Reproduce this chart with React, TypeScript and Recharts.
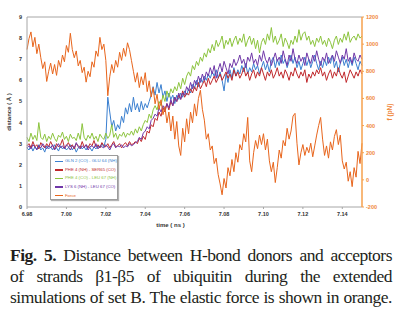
import { LineChart, Line, XAxis, YAxis, Legend, ReferenceLine } from "recharts";

// sampling grid: one reading every 0.001 ns from 6.980 to 7.150
const TIME_START = 6.98;
const TIME_STEP = 0.001;

// distance (Å)
const gln2Glu64 = [
  2.8, 2.7, 2.9, 2.65, 2.85, 2.75, 2.95, 2.7, 2.8, 2.6,
  2.9, 2.75, 2.85, 2.7, 2.95, 2.8, 2.65, 2.9, 2.75, 2.85,
  2.7, 2.8, 2.95, 2.7, 2.85, 2.6, 2.8, 2.9, 2.75, 2.85,
  2.7, 2.9, 2.8, 2.65, 2.85, 2.75, 2.9, 2.8, 3.0, 2.85,
  3.2, 5.2, 4.5, 3.8, 4.1, 3.6, 3.9, 3.7, 4.3, 4.0,
  4.7, 4.4, 4.9, 4.5, 5.2, 4.6, 4.9, 4.5, 5.0, 4.6,
  4.9, 4.7, 5.0, 5.3, 5.7, 5.3, 5.9, 5.4, 5.8, 5.2,
  5.5, 5.0, 5.4, 5.1, 5.3, 4.9, 5.3, 5.1, 5.4, 5.2,
  5.5, 5.3, 5.6, 5.4, 5.8, 5.6, 6.0, 5.7, 6.1, 5.9,
  6.2, 6.0, 6.3, 6.1, 6.4, 6.2, 6.5, 6.1, 6.4, 6.0,
  5.5, 6.3, 5.9, 6.5, 6.1, 6.6, 6.2, 6.5, 6.3, 6.7,
  6.4, 6.8, 6.3, 6.6, 6.4, 6.8, 6.5, 6.7, 6.3, 6.6,
  6.9, 6.5, 6.8, 6.4, 6.9, 7.1, 6.6, 7.0, 6.7, 7.2,
  6.8, 7.0, 6.6, 6.9, 7.2, 6.8, 7.1, 6.6, 6.9, 6.5,
  6.8, 7.1, 6.7, 7.0, 6.6, 6.9, 7.2, 6.8, 6.5, 6.9,
  6.6, 7.0, 6.7, 7.1, 6.8, 7.2, 6.6, 6.9, 6.4, 6.8,
  7.1, 6.7, 7.0, 6.6, 7.0, 6.7, 7.1, 6.8, 6.5, 6.9,
  6.7,
];

const phe4Ser65 = [
  2.9, 3.0, 2.8, 3.1, 2.85, 2.95, 2.75, 3.05, 2.9, 2.8,
  3.0, 2.85, 3.1, 2.9, 2.75, 3.0, 2.85, 2.95, 3.2, 2.8,
  2.9, 3.05, 2.85, 2.95, 2.75, 3.0, 2.9, 2.8, 3.1, 2.85,
  2.95, 2.8, 3.0, 2.9, 3.15, 2.85, 2.95, 2.8, 3.05, 2.9,
  2.85, 3.0, 2.8, 2.95, 3.1, 2.85, 2.9, 3.0, 2.8, 2.95,
  3.05, 2.9, 3.1, 2.95, 3.0, 3.1, 3.0, 3.25, 3.1, 3.35,
  3.2, 3.6, 3.5, 3.9, 3.8, 4.2, 4.1, 4.5, 4.3, 4.7,
  4.5, 4.9, 4.6, 5.0, 4.8, 5.2, 5.0, 5.3, 5.1, 5.5,
  5.2, 5.4, 5.3, 5.6, 5.4, 5.7, 5.5, 5.9, 5.6, 5.8,
  6.0, 5.7, 6.1, 5.8, 6.0, 6.2, 5.9, 6.1, 6.3, 6.0,
  6.2, 6.4, 6.1, 6.3, 6.0, 6.5, 6.2, 6.4, 6.1, 6.3,
  6.6, 6.2, 6.4, 6.0, 6.3, 6.5, 6.1, 6.4, 6.2, 6.6,
  6.3, 6.0, 6.4, 6.2, 6.5, 6.1, 6.3, 6.6, 6.2, 6.4,
  6.1, 6.5, 6.3, 6.0, 6.4, 6.2, 6.6, 6.3, 6.1, 6.4,
  6.2, 6.5, 5.9, 6.3, 6.1, 6.4, 6.2, 6.5, 6.3, 6.6,
  6.2, 6.4, 6.0, 6.3, 6.5, 6.1, 6.4, 6.2, 6.6, 6.3,
  6.1, 6.4, 5.9, 6.2, 6.5, 6.3, 6.1, 6.4, 6.2, 6.5,
  6.3,
];

const phe4Leu67 = [
  3.3, 3.1, 3.5, 3.2, 3.4, 3.15, 4.0, 3.3, 3.2, 3.45,
  3.1, 3.35, 3.2, 3.5, 3.25, 3.1, 3.4, 3.3, 3.55, 3.2,
  3.35, 3.1, 3.45, 3.25, 3.3, 3.15, 3.5, 3.2, 3.95, 3.3,
  3.15, 3.4, 3.25, 3.5, 3.2, 3.35, 3.1, 3.45, 3.3, 3.2,
  3.5, 3.25, 3.4, 3.9, 3.3, 3.5, 3.2, 3.45, 3.35, 3.55,
  3.3, 3.5, 3.4, 3.6, 3.4, 3.7, 3.5, 3.8, 3.6, 3.9,
  4.1, 4.0, 4.4, 4.2, 4.6, 4.8, 4.6, 5.0, 4.8, 5.3,
  5.0, 5.5, 5.2, 5.6, 5.4, 5.7, 5.5, 5.9, 5.6, 6.1,
  5.8, 6.2, 6.4, 6.2, 6.7, 6.5, 6.9, 6.7, 7.1, 6.9,
  7.3, 7.1, 7.5, 7.3, 7.7, 7.4, 7.9, 7.6, 7.8, 8.1,
  7.5, 7.9, 7.7, 8.0, 7.6, 7.9, 8.1, 7.7, 8.0, 7.8,
  8.2, 7.6, 7.9, 8.1, 7.7, 8.0, 7.5, 7.9, 7.3, 7.8,
  8.0, 7.7, 8.2, 7.9, 8.5, 7.8, 8.1, 7.7, 7.9, 8.2,
  7.6, 8.0, 7.8, 7.5, 7.9, 7.7, 8.1, 7.8, 8.4, 7.9,
  8.2, 8.3, 7.9, 8.1, 7.7, 7.9, 7.6, 8.0, 7.8, 8.1,
  7.7, 7.9, 7.6, 8.0, 7.8, 7.5, 7.9, 8.1, 7.7, 8.0,
  7.8, 8.2, 7.9, 8.3, 7.8, 8.0, 8.1, 7.9, 8.2, 8.0,
  8.1,
];

const lys6Leu67 = [
  2.8, 2.9, 2.75, 2.95, 2.85, 2.7, 2.9, 2.8, 3.0, 2.85,
  2.75, 2.9, 2.8, 2.95, 2.7, 2.85, 3.0, 2.8, 2.9, 2.75,
  2.95, 2.85, 2.7, 2.9, 2.8, 3.05, 2.85, 2.75, 2.9, 2.8,
  2.95, 2.7, 2.85, 2.9, 2.8, 3.0, 2.75, 2.9, 2.85, 2.8,
  2.95, 2.85, 2.7, 2.9, 3.0, 2.8, 2.9, 2.85, 2.95, 2.8,
  2.9, 2.85, 3.0, 2.9, 2.95, 3.05, 3.1, 3.3, 3.2, 3.5,
  3.6, 3.8, 3.7, 4.1, 4.2, 4.4, 4.3, 4.7, 4.5, 4.8,
  4.6, 4.9, 4.7, 5.1, 4.8, 5.2, 5.0, 5.4, 5.1, 5.4,
  5.3, 5.7, 5.5, 5.9, 5.6, 6.0, 5.8, 6.2, 5.9, 6.3,
  6.0, 6.4, 6.2, 6.6, 6.3, 6.7, 6.1, 6.5, 6.8, 6.4,
  6.9, 6.6, 6.3, 6.8, 6.6, 7.0, 6.7, 6.9, 7.2, 6.8,
  7.0, 6.6, 7.1, 6.9, 7.3, 6.8, 7.0, 6.7, 7.2, 6.9,
  7.4, 7.0, 6.8, 7.1, 6.7, 7.0, 7.3, 6.9, 7.1, 6.8,
  7.4, 7.0, 6.7, 7.2, 6.9, 7.5, 7.0, 6.8, 7.2, 6.9,
  7.1, 6.7, 7.3, 7.0, 6.8, 7.2, 6.9, 7.4, 7.0, 6.7,
  7.1, 6.9, 7.3, 6.8, 7.0, 7.2, 6.9, 7.4, 7.1, 6.8,
  7.2, 7.0, 7.5, 6.9, 7.1, 6.8, 7.3, 7.0, 6.9, 7.2,
  7.0,
];

// elastic force (pN), right axis
const force = [
  960, 1040, 1090, 980, 1050, 930, 1000, 900, 820, 870,
  725, 800, 860, 780, 850, 770, 880, 830, 920, 870,
  990, 940, 1080, 960, 900, 950, 840, 880, 790, 830,
  720, 800, 760, 870, 830, 950, 910, 1050, 960, 1000,
  880, 620, 760, 850, 790, 880, 830, 940, 880, 970,
  910, 1010, 960, 880, 800, 720, 790, 680, 760, 700,
  790, 650, 730, 610, 680, 560, 630, 520, 590, 480,
  540, 420, 500, 360, 470, 300, 430, 250, 180, 380,
  280, 450, 340, 500, 420, 560, 470, 600, 660, 520,
  440, 300, 340, 220, 250, 120, 160, 40, -30, -110,
  10, -60, 90, 30, 150, 60, 200, 130, 260, 220,
  340, 280, 460, 140, 60, 200, 290, 230, 330, 260,
  340, 220, 300, 140, 60, 130, -20, 90, 220, 160,
  290, 250, 380, 300, 360, 470, 490, 270, 110, 200,
  260, 180, 240, 200, 270, 170, 250, 330, 400, 460,
  300, 180, 250, 160, 280, 220, 320, 370, 260, 330,
  140, 80, 130, -10, 60, -50, 90, 20, 210, 120,
  270,
];

const timeTicks = [6.98, 7.0, 7.02, 7.04, 7.06, 7.08, 7.1, 7.12, 7.14];
const distanceTicks = [0, 1, 2, 3, 4, 5, 6, 7, 8, 9];
const forceTicks = [-200, 0, 200, 400, 600, 800, 1000, 1200];

const seriesNames = [
  "GLN 2 (CO) - GLU 64 (NH)",
  "PHE 4 (NH) - SER65 (CO)",
  "PHE 4 (CO) - LEU 67 (NH)",
  "LYS 6 (NH) - LEU 67 (CO)",
  "Force",
];

const rows = force.map((f, i) => ({
  t: Math.round((TIME_START + i * TIME_STEP) * 1000) / 1000,
  gln2: gln2Glu64[i],
  phe4nh: phe4Ser65[i],
  phe4co: phe4Leu67[i],
  lys6: lys6Leu67[i],
  force: f,
}));

const AXIS_GREY = "#a6a6a6";
const AXIS_ORANGE = "#f6a04d";
const chartFont = '"Liberation Sans", Arial, sans-serif';

const LegendBox = ({ payload }: any) => {
  const items = seriesNames
    .map((n) => (payload || []).find((p: any) => p.value === n))
    .filter(Boolean);
  return (
    <div
      style={{
        boxSizing: "border-box",
        width: 68,
        height: 45,
        border: "1px solid #9c9c9c",
        boxShadow: "1px 1px 1px rgba(0,0,0,0.3)",
        background: "#fff",
        padding: "1px 3px 1px 4px",
        fontFamily: chartFont,
      }}
    >
      {items.map((p: any) => (
        <div key={p.value} style={{ display: "flex", alignItems: "center", height: 8.6 }}>
          <span style={{ display: "inline-block", flex: "none", width: 8, height: 1.3, background: p.color, marginRight: 2 }} />
          <span style={{ color: p.color, fontSize: 4.3, whiteSpace: "nowrap", lineHeight: 1 }}>{p.value}</span>
        </div>
      ))}
    </div>
  );
};

const captionLine: React.CSSProperties = { textAlign: "justify", textAlignLast: "justify" };

export default function App() {
  return (
    <div style={{ position: "absolute", left: 0, top: 0, width: 400, height: 309, background: "#fff" }}>
      <LineChart width={400} height={232} data={rows} margin={{ top: 17, right: 0, bottom: 0, left: 0 }}>
        <XAxis
          dataKey="t"
          type="number"
          domain={[6.98, 7.15]}
          ticks={timeTicks}
          interval={0}
          tickFormatter={(v: number) => v.toFixed(2)}
          height={25}
          stroke={AXIS_GREY}
          tickSize={2}
          tickMargin={3}
          tick={{ fontSize: 5.5, fontWeight: 700, fill: "#333", fontFamily: chartFont }}
          label={{
            value: "time ( ns )",
            position: "insideBottom",
            offset: 5,
            dx: -24,
            style: { fontSize: 6, fontWeight: 700, fill: "#333", fontFamily: chartFont },
          }}
        />
        <YAxis
          yAxisId="d"
          orientation="left"
          width={27}
          domain={[0, 9]}
          ticks={distanceTicks}
          interval={0}
          stroke={AXIS_GREY}
          tickLine={false}
          tickSize={2}
          tickMargin={3}
          tick={{ fontSize: 5.5, fontWeight: 700, fill: "#333", fontFamily: chartFont }}
          label={{
            value: "distance ( Å )",
            angle: -90,
            position: "insideLeft",
            offset: 9,
            style: { textAnchor: "middle", fontSize: 6, fontWeight: 700, fill: "#333", fontFamily: chartFont },
          }}
        />
        <YAxis
          yAxisId="f"
          orientation="right"
          width={38}
          domain={[-200, 1200]}
          ticks={forceTicks}
          interval={0}
          axisLine={{ stroke: AXIS_ORANGE, strokeWidth: 1.5 }}
          tickLine={{ stroke: AXIS_ORANGE }}
          tickSize={2}
          tickMargin={2}
          tick={{ fontSize: 5.5, fontWeight: 700, fill: "#f0883a", fontFamily: chartFont }}
          label={{
            value: "f (pN)",
            angle: -90,
            position: "insideRight",
            offset: 10,
            style: { textAnchor: "middle", fontSize: 6.5, fontWeight: 700, fill: "#f0883a", fontFamily: chartFont },
          }}
        />
        <ReferenceLine yAxisId="d" y={9} stroke={AXIS_GREY} />
        <Legend
          layout="horizontal"
          verticalAlign="middle"
          align="center"
          content={LegendBox}
          wrapperStyle={{ left: 50, top: 155, right: "auto", bottom: "auto", width: 68, height: 45, margin: 0 }}
        />
        <Line yAxisId="d" dataKey="gln2" name={seriesNames[0]} stroke="#3a7fd0" strokeWidth={1} dot={false} isAnimationActive={false} />
        <Line yAxisId="d" dataKey="phe4nh" name={seriesNames[1]} stroke="#c0282c" strokeWidth={1} dot={false} isAnimationActive={false} />
        <Line yAxisId="d" dataKey="phe4co" name={seriesNames[2]} stroke="#8cc43e" strokeWidth={1} dot={false} isAnimationActive={false} />
        <Line yAxisId="d" dataKey="lys6" name={seriesNames[3]} stroke="#7038a8" strokeWidth={1} dot={false} isAnimationActive={false} />
        <Line yAxisId="f" dataKey="force" name={seriesNames[4]} stroke="#e8651c" strokeWidth={1} dot={false} isAnimationActive={false} />
      </LineChart>
      <div
        style={{
          position: "absolute",
          left: 10,
          top: 245,
          width: 382,
          fontFamily: '"Liberation Serif", "Times New Roman", serif',
          fontSize: 17.5,
          letterSpacing: -0.5,
          lineHeight: "20.8px",
          color: "#231f20",
        }}
      >
        <div style={captionLine}>
          <b>Fig. 5.</b> Distance between H-bond donors and acceptors
        </div>
        <div style={captionLine}>of strands β1-β5 of ubiquitin during the extended</div>
        <div style={captionLine}>simulations of set B. The elastic force is shown in orange.</div>
      </div>
    </div>
  );
}
